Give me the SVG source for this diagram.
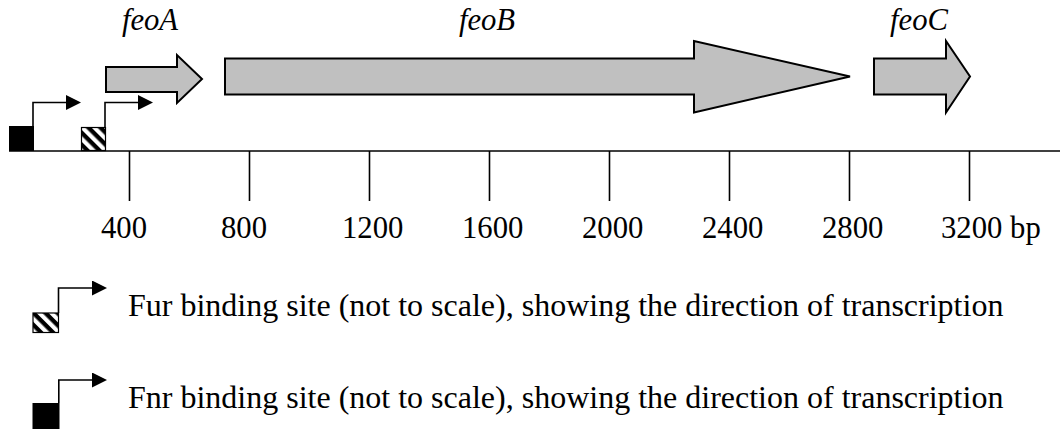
<svg xmlns="http://www.w3.org/2000/svg" width="1060" height="432" viewBox="0 0 1060 432">
  <defs>
    <style>
      .txt { font-family: "Liberation Serif", "Times New Roman", serif; font-size: 30.7px; fill: #000; }
      .key { font-size: 32px; }
      .gene-label { font-style: italic; text-anchor: middle; }
      .gene { fill: #c0c0c0; stroke: #000; stroke-width: 2; stroke-linejoin: miter; }
      .axis { stroke: #000; stroke-width: 1.6; fill: none; }
      .promoter { stroke: #000; stroke-width: 1.6; fill: none; marker-end: url(#head); }
      .fnr { fill: #000; }
      .fur { fill: url(#hatch); stroke: #000; stroke-width: 1.2; }
    </style>
    <marker id="head" markerUnits="userSpaceOnUse" markerWidth="16" markerHeight="16" refX="0" refY="7.5" orient="auto">
      <polygon points="0,0 15,7.5 0,15" fill="#000"/>
    </marker>
    <pattern id="hatch" patternUnits="userSpaceOnUse" width="8.5" height="8.5" patternTransform="rotate(45)">
      <rect x="0" y="0" width="8.5" height="8.5" fill="#fff"/>
      <rect x="0" y="0" width="8.5" height="4.3" fill="#000"/>
    </pattern>
  </defs>

  <!-- sequence axis with 400 bp ticks -->
  <g id="axis">
    <line class="axis" x1="9" y1="151" x2="1060" y2="151"/>
    <path class="axis" d="M129.5 151V201 M249.5 151V201 M369.5 151V201 M489.5 151V201 M609.5 151V201 M729.5 151V201 M849.5 151V201 M969.5 151V201"/>
    <text class="txt" x="101" y="238">400</text>
    <text class="txt" x="221" y="238">800</text>
    <text class="txt" x="342" y="238">1200</text>
    <text class="txt" x="462" y="238">1600</text>
    <text class="txt" x="582" y="238">2000</text>
    <text class="txt" x="702" y="238">2400</text>
    <text class="txt" x="822" y="238">2800</text>
    <text class="txt" x="941" y="238">3200 bp</text>
  </g>

  <!-- genes -->
  <g id="feoA">
    <polygon class="gene" points="106,67 177,67 177,55 202,79 177,103 177,92 106,92"/>
    <text class="txt gene-label" x="150" y="30">feoA</text>
  </g>
  <g id="feoB">
    <polygon class="gene" points="225,58.5 694,58.5 694,41 850,76.5 694,112.5 694,94.5 225,94.5"/>
    <text class="txt gene-label" x="487" y="30">feoB</text>
  </g>
  <g id="feoC">
    <polygon class="gene" points="874,58.5 946,58.5 946,41 970,76.5 946,112.5 946,94.5 874,94.5"/>
    <text class="txt gene-label" x="919" y="30">feoC</text>
  </g>

  <!-- binding sites -->
  <g id="fnr-site">
    <rect class="fnr" x="9" y="126" width="25" height="25"/>
  </g>
  <g id="fur-site">
    <rect class="fur" x="81.5" y="127.5" width="24" height="23"/>
  </g>

  <!-- transcription start arrows -->
  <g id="connectors">
    <path class="promoter" d="M33 126V102.5H66"/>
    <path class="promoter" d="M105 127V102.5H138"/>
  </g>

  <!-- key -->
  <g id="legend-fur">
    <rect class="fur" x="33" y="313" width="25.5" height="19.5"/>
    <path class="promoter" d="M58.5 313V288H92"/>
    <text class="txt key" x="128" y="316">Fur binding site (not to scale), showing the direction of transcription</text>
  </g>
  <g id="legend-fnr">
    <rect class="fnr" x="32.5" y="403" width="27" height="26"/>
    <path class="promoter" d="M58.8 403V380H92"/>
    <text class="txt key" x="128" y="408">Fnr binding site (not to scale), showing the direction of transcription</text>
  </g>
</svg>
